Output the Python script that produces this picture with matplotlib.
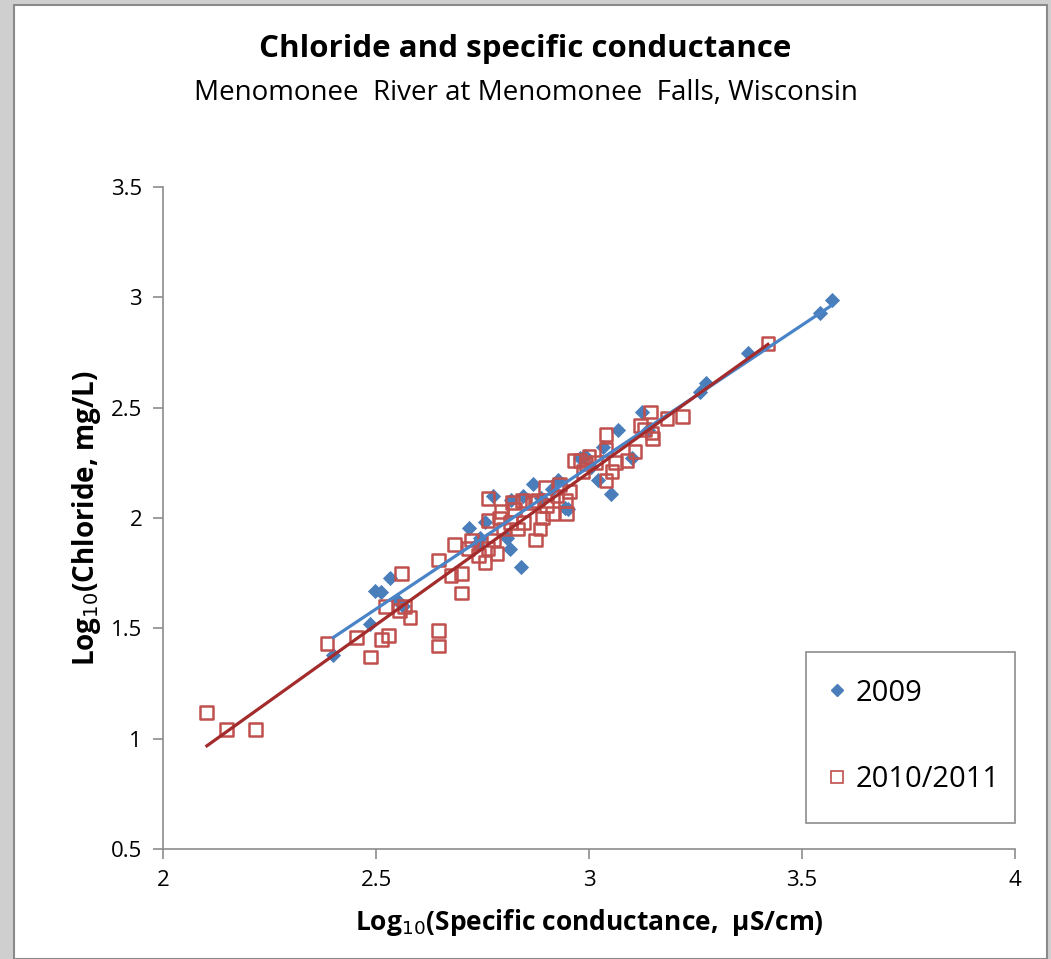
import numpy as np
import matplotlib.pyplot as plt
from matplotlib.patches import Rectangle
from matplotlib.lines import Line2D

plt.rcParams['font.family'] = ['Open Sans', 'DejaVu Sans']

# log10 specific conductance (x) and log10 chloride (y), 2009 samples
x_2009 = [2.40, 2.486, 2.498, 2.512, 2.533, 2.55, 2.563, 2.718, 2.737, 2.744,
          2.756, 2.775, 2.807, 2.815, 2.817, 2.84, 2.845, 2.868, 2.887, 2.913,
          2.927, 2.944, 2.95, 2.98, 2.99, 3.005, 3.02, 3.033, 3.052, 3.068,
          3.10, 3.124, 3.138, 3.26, 3.275, 3.373, 3.542, 3.57]
y_2009 = [1.38, 1.52, 1.67, 1.665, 1.73, 1.63, 1.60, 1.955, 1.88, 1.91,
          1.98, 2.10, 1.91, 1.86, 2.08, 1.78, 2.10, 2.155, 2.09, 2.13,
          2.17, 2.045, 2.04, 2.27, 2.28, 2.23, 2.17, 2.32, 2.11, 2.40,
          2.27, 2.48, 2.40, 2.57, 2.61, 2.75, 2.93, 2.99]

# 2010/2011 samples
x_1011 = [2.103, 2.15, 2.218, 2.385, 2.455, 2.488, 2.512, 2.523, 2.53, 2.56,
          2.556, 2.566, 2.58, 2.646, 2.646, 2.646, 2.676, 2.685, 2.70, 2.70,
          2.716, 2.725, 2.74, 2.756, 2.763, 2.763, 2.763, 2.775, 2.784, 2.79,
          2.795, 2.80, 2.815, 2.82, 2.826, 2.833, 2.843, 2.847, 2.866, 2.875,
          2.88, 2.885, 2.89, 2.897, 2.90, 2.915, 2.925, 2.93, 2.944, 2.948,
          2.955, 2.965, 2.979, 2.986, 2.993, 3.00, 3.016, 3.04, 3.04, 3.04,
          3.054, 3.063, 3.089, 3.108, 3.12, 3.13, 3.145, 3.148, 3.15, 3.183,
          3.22, 3.42]
y_1011 = [1.117, 1.04, 1.04, 1.43, 1.46, 1.37, 1.45, 1.60, 1.466, 1.75,
          1.58, 1.60, 1.55, 1.49, 1.42, 1.81, 1.74, 1.88, 1.75, 1.66,
          1.86, 1.90, 1.83, 1.80, 2.09, 1.99, 1.86, 1.90, 1.84, 2.00,
          2.03, 1.95, 1.98, 2.07, 2.04, 1.95, 2.08, 1.98, 2.07, 1.90,
          2.08, 1.95, 2.00, 2.14, 2.055, 2.02, 2.10, 2.15, 2.08, 2.02,
          2.12, 2.26, 2.26, 2.21, 2.245, 2.28, 2.25, 2.38, 2.31, 2.17,
          2.21, 2.25, 2.26, 2.30, 2.42, 2.40, 2.48, 2.385, 2.36, 2.45,
          2.46, 2.79]

x_ticks = [2, 2.5, 3, 3.5, 4]
y_ticks = [0.5, 1, 1.5, 2, 2.5, 3, 3.5]

blue = '#4a7ebb'
red = '#c0504d'
blue_line = '#4a84c8'
red_line = '#a32b2b'

fig = plt.figure(figsize=(10.51, 9.59), dpi=100, facecolor='#cfcfcf')
# white chart area with a thin frame, kept behind the axes
fig.patches.append(Rectangle((14 / 1051, 0), 1033 / 1051, 1 - 5 / 959,
                             transform=fig.transFigure, facecolor='white',
                             edgecolor='#8a8a8a', linewidth=1.5, zorder=-10))

ax = fig.add_axes([163 / 1051, 1 - 849 / 959, 852 / 1051, 662 / 959])
ax.set_facecolor('none')

ax.scatter(x_2009, y_2009, marker='D', s=60, color=blue, linewidths=0, zorder=3)
ax.scatter(x_1011, y_1011, marker='s', s=85, facecolors='none',
           edgecolors=red, linewidths=1.8, zorder=3)

# linear trend lines through each series
for xs, ys, c in [(x_2009, y_2009, blue_line), (x_1011, y_1011, red_line)]:
    fit = np.poly1d(np.polyfit(xs, ys, 1))
    xx = np.array([min(xs), max(xs)])
    ax.plot(xx, fit(xx), color=c, linewidth=2.3, zorder=4)

ax.set_xlim(2, 4)
ax.set_ylim(0.5, 3.5)
ax.set_xticks(x_ticks)
ax.set_yticks(y_ticks)
ax.set_xticklabels([f'{t:g}' for t in x_ticks])
ax.set_yticklabels([f'{t:g}' for t in y_ticks])
for s in ['top', 'right']:
    ax.spines[s].set_visible(False)
for s in ['left', 'bottom']:
    ax.spines[s].set_color('#8c8c8c')
    ax.spines[s].set_linewidth(1.2)
ax.tick_params(direction='out', length=7, width=1.2, color='#8c8c8c',
               labelsize=16, pad=8)

ax.set_xlabel('Log$_{10}$(Specific conductance,  µS/cm)', fontsize=19,
              fontweight='bold', labelpad=12)
ax.set_ylabel('Log$_{10}$(Chloride, mg/L)', fontsize=20, fontweight='bold',
              labelpad=6)

fig.text(0.5, 1 - 49 / 959, 'Chloride and specific conductance',
         ha='center', va='center', fontsize=22.5, fontweight='bold')
fig.text(0.5, 1 - 93 / 959, 'Menomonee  River at Menomonee  Falls, Wisconsin',
         ha='center', va='center', fontsize=20)

# legend box drawn on its own so its proportions can be set freely
lx0, lx1, ly0, ly1 = 0.7547, 1.0, 0.0393, 0.2976
ax.add_patch(Rectangle((lx0, ly0), lx1 - lx0, ly1 - ly0, transform=ax.transAxes,
                       facecolor='white', edgecolor='#8c8c8c', linewidth=1.2,
                       zorder=5, clip_on=False))
handles = [Line2D([], [], marker='D', linestyle='none', color=blue,
                  markersize=6),
           Line2D([], [], marker='s', linestyle='none', markerfacecolor='none',
                  markeredgecolor=red, markersize=8, markeredgewidth=1.2)]
leg = ax.legend(handles, ['2009', '2010/2011'], loc='center',
                bbox_to_anchor=((lx0 + lx1) / 2 + 0.002, (ly0 + ly1) / 2 + 0.002),
                fontsize=21, frameon=False, labelspacing=1.96, borderpad=0,
                handletextpad=0.25, handlelength=0.8, borderaxespad=0)
leg.set_zorder(6)

fig.savefig('out.png', dpi=100, facecolor=fig.get_facecolor())
